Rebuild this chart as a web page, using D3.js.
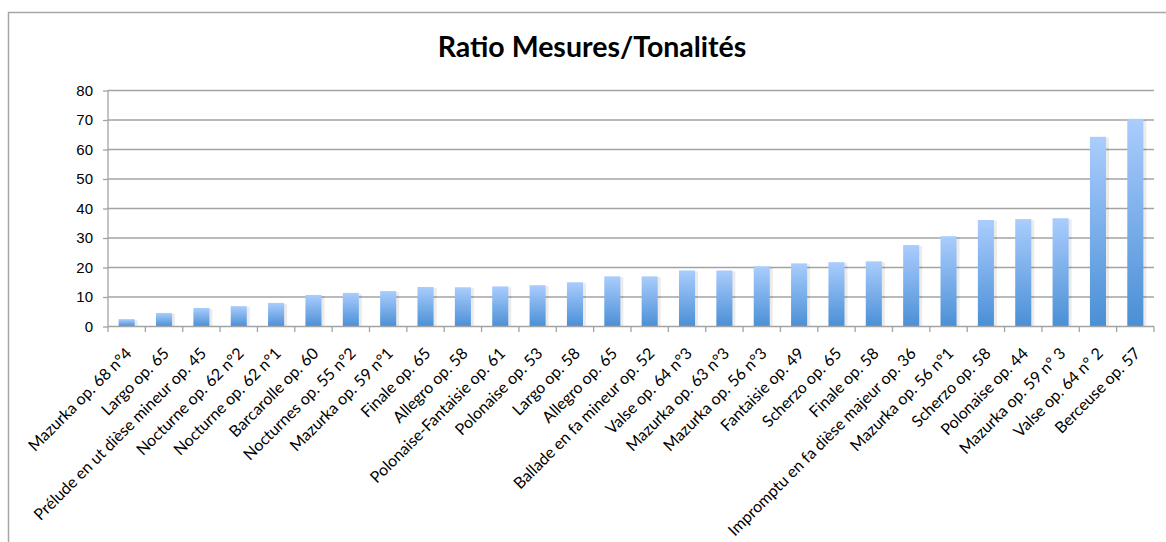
<!DOCTYPE html>
<html>
<head>
<meta charset="utf-8">
<script src="https://cdn.jsdelivr.net/npm/d3@7"></script>
<style>
  body { margin: 0; background: #fff; }
  svg { font-family: Lato, "Open Sans", sans-serif; }
</style>
</head>
<body>
<svg id="chart" width="1166" height="542"></svg>
<script>
// Données
const oeuvres = [
  "Mazurka op. 68 n°4", "Largo op. 65", "Prélude en ut dièse mineur op. 45",
  "Nocturne op. 62 n°2", "Nocturne op. 62 n°1", "Barcarolle op. 60",
  "Nocturnes op. 55 n°2", "Mazurka op. 59 n°1", "Finale op. 65",
  "Allegro op. 58", "Polonaise-Fantaisie op. 61", "Polonaise op. 53",
  "Largo op. 58", "Allegro op. 65", "Ballade en fa mineur op. 52",
  "Valse op. 64 n°3", "Mazurka op. 63 n°3", "Mazurka op. 56 n°3",
  "Fantaisie op. 49", "Scherzo op. 65", "Finale op. 58",
  "Impromptu en fa dièse majeur op. 36", "Mazurka op. 56 n°1", "Scherzo op. 58",
  "Polonaise op. 44", "Mazurka op. 59 n° 3", "Valse op. 64 n° 2", "Berceuse op. 57"
];
const ratios = [
  2.5, 4.6, 6.3, 6.9, 8.0, 10.7, 11.4, 12.0, 13.4,
  13.3, 13.6, 14.0, 15.0, 17.0, 17.0, 19.0, 19.0, 20.4,
  21.4, 21.8, 22.1, 27.6, 30.6, 36.1, 36.4, 36.7, 64.3, 70.4
];
const yTicks = [0, 10, 20, 30, 40, 50, 60, 70, 80];

const data = oeuvres.map((nom, i) => ({ nom, valeur: ratios[i] }));

const svg = d3.select("#chart");

// cadre du graphique
svg.append("rect")
  .attr("x", 8.5).attr("y", 12.5)
  .attr("width", 1170).attr("height", 600)
  .attr("fill", "none")
  .attr("stroke", "#a6a6a6")
  .attr("stroke-width", 1.5);

const margin = { left: 108, right: 1154, top: 90.5, bottom: 326.5 };

const x = d3.scaleBand()
  .domain(oeuvres)
  .range([margin.left, margin.right])
  .paddingInner(0.57)
  .paddingOuter(0.285);

const y = d3.scaleLinear()
  .domain([0, 80])
  .range([margin.bottom, margin.top]);

// dégradé des barres
const grad = svg.append("defs").append("linearGradient")
  .attr("id", "barGrad")
  .attr("x1", 0).attr("y1", 0).attr("x2", 0).attr("y2", 1);
grad.append("stop").attr("offset", "0%").attr("stop-color", "#aacdfd");
grad.append("stop").attr("offset", "100%").attr("stop-color", "#4a8fd6");

// lignes de grille
svg.append("g")
  .selectAll("line")
  .data(yTicks.filter(d => d > 0))
  .enter().append("line")
  .attr("x1", margin.left).attr("x2", margin.right)
  .attr("y1", d => y(d)).attr("y2", d => y(d))
  .attr("stroke", "#a3a3a3")
  .attr("stroke-width", 1.3);

// ombre légère
svg.append("g")
  .selectAll("rect")
  .data(data)
  .enter().append("rect")
  .attr("x", d => x(d.nom) + 1.5)
  .attr("y", d => y(d.valeur) + 1)
  .attr("width", x.bandwidth() + 1.5)
  .attr("height", d => y(0) - y(d.valeur) - 1)
  .attr("fill", "#000")
  .attr("opacity", 0.08);

// barres
svg.append("g")
  .selectAll("rect")
  .data(data)
  .enter().append("rect")
  .attr("x", d => x(d.nom))
  .attr("y", d => y(d.valeur))
  .attr("width", x.bandwidth())
  .attr("height", d => y(0) - y(d.valeur))
  .attr("fill", "url(#barGrad)");

// axe Y
const yAxis = svg.append("g")
  .attr("transform", `translate(${margin.left},0)`)
  .call(d3.axisLeft(y).tickValues(yTicks).tickSize(5).tickPadding(10));
yAxis.select(".domain").attr("stroke", "#a3a3a3").attr("stroke-width", 1.3)
  .attr("d", `M0,${margin.bottom}V${margin.top}`);
yAxis.selectAll(".tick line").attr("stroke", "#a3a3a3").attr("stroke-width", 1.3);
yAxis.selectAll(".tick text").attr("fill", "#000").style("font-size", "15px");

// axe X : graduations aux limites des catégories
const step = x.step();
const bornes = d3.range(oeuvres.length + 1);
const xg = svg.append("g");
xg.append("line")
  .attr("x1", margin.left).attr("x2", margin.right)
  .attr("y1", y(0)).attr("y2", y(0))
  .attr("stroke", "#a3a3a3").attr("stroke-width", 1.3);
xg.selectAll("line.t")
  .data(bornes)
  .enter().append("line")
  .attr("class", "t")
  .attr("x1", i => margin.left + i * step)
  .attr("x2", i => margin.left + i * step)
  .attr("y1", y(0)).attr("y2", y(0) + 5.5)
  .attr("stroke", "#a3a3a3").attr("stroke-width", 1.3);

xg.selectAll("text")
  .data(oeuvres)
  .enter().append("text")
  .attr("transform", d => `translate(${x(d) + x.bandwidth() / 2 + 6},${y(0) + 28}) rotate(-45)`)
  .attr("text-anchor", "end")
  .style("font-size", "16px")
  .attr("fill", "#000")
  .text(d => d);

// titre
svg.append("text")
  .attr("x", 592)
  .attr("y", 57)
  .attr("text-anchor", "middle")
  .style("font-size", "28.5px")
  .style("font-weight", "bold")
  .text("Ratio Mesures/Tonalités");
</script>
</body>
</html>
